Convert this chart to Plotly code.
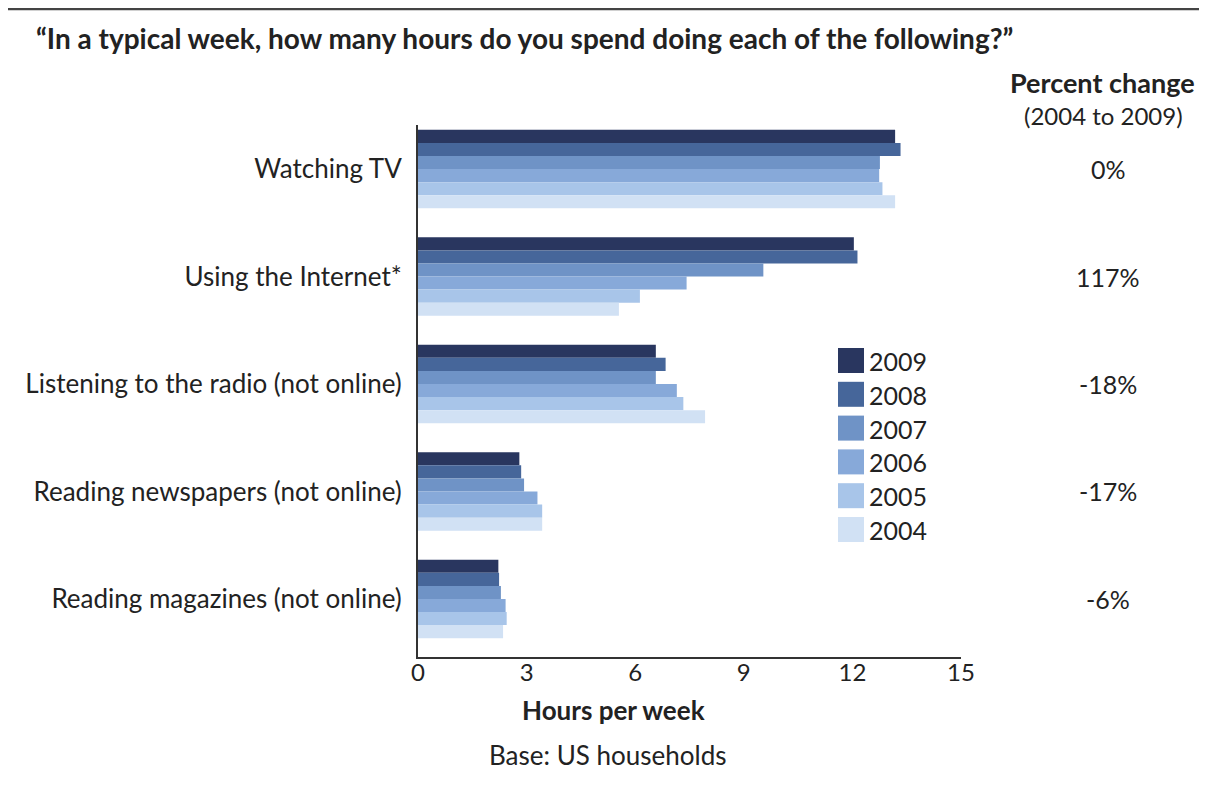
import plotly.graph_objects as go

categories = ["Watching TV", "Using the Internet*", "Listening to the radio (not online)",
              "Reading newspapers (not online)", "Reading magazines (not online)"]
years = ["2009", "2008", "2007", "2006", "2005", "2004"]
hours = {
    "2009": [13.18, 12.04, 6.57, 2.80, 2.22],
    "2008": [13.33, 12.14, 6.84, 2.85, 2.24],
    "2007": [12.76, 9.54, 6.57, 2.93, 2.29],
    "2006": [12.74, 7.42, 7.15, 3.30, 2.42],
    "2005": [12.83, 6.13, 7.33, 3.43, 2.45],
    "2004": [13.18, 5.55, 7.93, 3.43, 2.35],
}
pct_change = ["0%", "117%", "-18%", "-17%", "-6%"]
colors = {"2009": "#29365f", "2008": "#46669a", "2007": "#6f93c6",
          "2006": "#87a9d9", "2005": "#a8c5e9", "2004": "#d1e1f4"}
x_ticks = [0, 3, 6, 9, 12, 15]

# page coordinates (the page body has an 8px margin)
OFF = 8
PW, PH = 1207, 791
W, H = PW - OFF, PH - OFF
L, R, T, B = 418, 961, 125, 657
FONT = "Lato"
TXT = "#222222"

def px(x):
    return (x - L) / (R - L)

def py(y):
    return (B - y) / (B - T)

fig = go.Figure()
for yr in years:
    fig.add_trace(go.Bar(y=categories, x=hours[yr], orientation="h", name=yr,
                         marker=dict(color=colors[yr], line=dict(width=0)),
                         showlegend=False))

fig.update_layout(
    width=W, height=H, barmode="group", bargap=0.27, bargroupgap=0,
    margin=dict(l=L - OFF, r=PW - R, t=T - OFF, b=PH - B),
    paper_bgcolor="white", plot_bgcolor="white",
    font=dict(family=FONT, color=TXT, size=20),
    xaxis=dict(range=[0, 15], tickvals=x_ticks, showgrid=False, zeroline=False,
               showline=True, linecolor="#333333", linewidth=2, ticks="",
               ticklabelstandoff=-7, tickfont=dict(size=24, color=TXT)),
    yaxis=dict(range=[4.54, -0.41], showgrid=False, zeroline=False,
               showline=True, linecolor="#333333", linewidth=2, ticks="",
               ticklabelstandoff=9, tickfont=dict(size=26, color=TXT)),
)

shapes = [dict(type="line", xref="paper", yref="paper", x0=px(OFF), x1=px(PW),
               y0=py(9), y1=py(9), line=dict(color="#444444", width=2.5))]
ann = []
ann.append(dict(text="<b>“In a typical week, how many hours do you spend doing each of the following?”</b>",
                xref="paper", yref="paper", x=px(34), y=py(38), xanchor="left", yanchor="middle",
                showarrow=False, font=dict(size=28, color=TXT)))
ann.append(dict(text="<b>Percent change</b>", xref="paper", yref="paper", x=px(1102), y=py(83),
                xanchor="center", yanchor="middle", showarrow=False, font=dict(size=27, color=TXT)))
ann.append(dict(text="(2004 to 2009)", xref="paper", yref="paper", x=px(1103), y=py(116),
                xanchor="center", yanchor="middle", showarrow=False, font=dict(size=24, color=TXT)))
for c, p in zip(categories, pct_change):
    ann.append(dict(text=p, xref="paper", yref="y", x=px(1108), y=c, xanchor="center",
                    yanchor="middle", showarrow=False, font=dict(size=25, color=TXT)))
ann.append(dict(text="<b>Hours per week</b>", xref="paper", yref="paper", x=px(613), y=py(710),
                xanchor="center", yanchor="middle", showarrow=False, font=dict(size=26, color=TXT)))
ann.append(dict(text="Base: US households", xref="paper", yref="paper", x=px(607), y=py(755),
                xanchor="center", yanchor="middle", showarrow=False, font=dict(size=26, color=TXT)))

# legend
for i, yr in enumerate(years):
    top = 348 + i * 33.8
    shapes.append(dict(type="rect", xref="paper", yref="paper", x0=px(838), x1=px(864),
                       y0=py(top), y1=py(top + 25), fillcolor=colors[yr], line=dict(width=0)))
    ann.append(dict(text=yr, xref="paper", yref="paper", x=px(867), y=py(top + 13),
                    xanchor="left", yanchor="middle", showarrow=False, font=dict(size=25, color=TXT)))

fig.update_layout(shapes=shapes, annotations=ann)
fig.write_html("out.html")
